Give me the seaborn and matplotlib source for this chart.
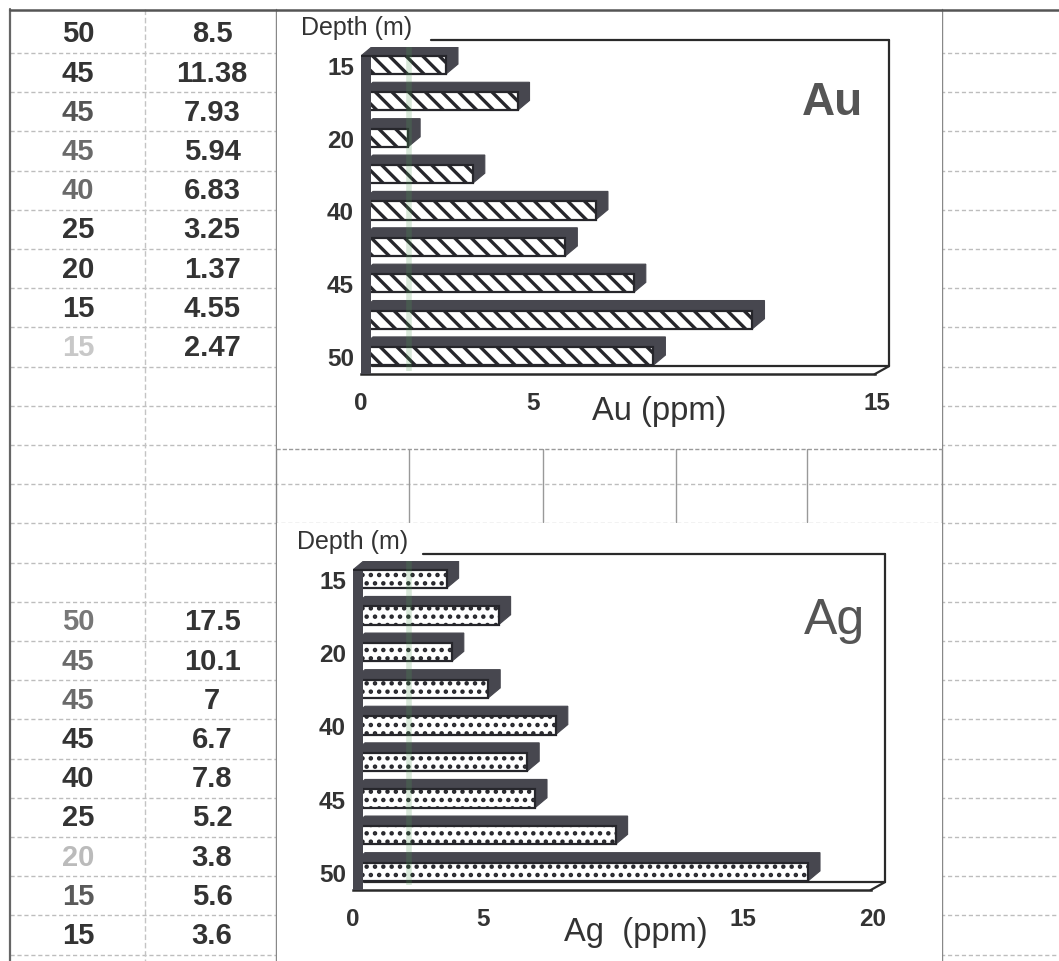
import matplotlib
matplotlib.use("Agg")
import matplotlib.pyplot as plt
import seaborn as sns
import pandas as pd
from matplotlib.patches import Polygon, Rectangle

# ---------------- data (table order, top to bottom) ----------------
au_depth = [50, 45, 45, 45, 40, 25, 20, 15, 15]
au_ppm = [8.5, 11.38, 7.93, 5.94, 6.83, 3.25, 1.37, 4.55, 2.47]
ag_depth = [50, 45, 45, 45, 40, 25, 20, 15, 15]
ag_ppm = [17.5, 10.1, 7, 6.7, 7.8, 5.2, 3.8, 5.6, 3.6]
au_xticks = [0, 5, 15]
ag_xticks = [0, 5, 15, 20]
au_xmax = 15
ag_xmax = 20

# ---------------- style ----------------
sns.set_style("white")
plt.rcParams["font.family"] = ["Liberation Sans", "DejaVu Sans"]

W, H = 1059, 962
fig = plt.figure(figsize=(W / 100, H / 100), dpi=100)
fig.patch.set_facecolor("white")

TXT = "#333333"
DARK = "#47474f"
GRID = "#bdbdbd"

# background "page" axes in pixel coordinates
bg = fig.add_axes([0, 0, 1, 1])
bg.set_xlim(0, W)
bg.set_ylim(H, 0)
bg.axis("off")

row0, rowstep = 54, 39.2
nrows = 24
for k in range(nrows):
    y = row0 + rowstep * k
    bg.plot([10, W], [y, y], color=GRID, lw=1.0, ls=(0, (3, 2)), zorder=1)
# verticals
bg.plot([10, 10], [10, H], color="#666666", lw=1.6, zorder=2)
bg.plot([145, 145], [10, H], color="#c4c4c4", lw=1.0, ls=(0, (4, 2)), zorder=2)
bg.plot([276, 276], [10, H], color="#888888", lw=1.0, zorder=2)
bg.plot([942, 942], [10, H], color="#888888", lw=1.0, zorder=2)
for gx in [409, 543, 676, 807]:
    bg.plot([gx, gx], [450, 523], color="#999999", lw=1.0, zorder=2)

# white chart panels
bg.add_patch(Rectangle((277, 13), 665, 437, facecolor="white", edgecolor="none", zorder=3))
bg.add_patch(Rectangle((277, 524), 665, H - 524, facecolor="white", edgecolor="none", zorder=3))
bg.plot([276, 942], [450, 450], color="#9a9a9a", lw=1.0, ls=(0, (3, 1.5)), zorder=4)
bg.plot([10, W], [11, 11], color="#555555", lw=1.8, zorder=5)

# table text
depth_colors_au = [TXT, TXT, "#555555", "#6a6a6a", "#6a6a6a", TXT, TXT, TXT, "#c8c8c8"]
depth_colors_ag = ["#777777", "#6a6a6a", "#6a6a6a", TXT, TXT, TXT, "#bbbbbb", "#5a5a5a", TXT]
TFS = 21
for i, (d, v) in enumerate(zip(au_depth, au_ppm)):
    y = row0 + rowstep * i - rowstep / 2
    bg.text(78, y, f"{d}", ha="center", va="center", fontsize=TFS, color=depth_colors_au[i],
            fontweight="bold", zorder=6)
    bg.text(212, y, f"{v:g}", ha="center", va="center", fontsize=TFS, color=TXT,
            fontweight="bold", zorder=6)
for j, (d, v) in enumerate(zip(ag_depth, ag_ppm)):
    y = row0 + rowstep * (15 + j) - rowstep / 2
    bg.text(78, y, f"{d}", ha="center", va="center", fontsize=TFS, color=depth_colors_ag[j],
            fontweight="bold", zorder=6)
    bg.text(212, y, f"{v:g}", ha="center", va="center", fontsize=TFS, color=TXT,
            fontweight="bold", zorder=6)


def chart(rect_px, depth, vals, xmax, xticks, hatch, hatch_lw, dx_px=12, dy_px=10):
    l, t, r, b = rect_px
    ax = fig.add_axes([l / W, 1 - b / H, (r - l) / W, (b - t) / H])
    ax.patch.set_alpha(0)
    depth_c = list(reversed(depth))
    vals_c = list(reversed(vals))
    df = pd.DataFrame({"row": list(range(len(vals_c))), "v": vals_c})
    plt.rcParams["hatch.linewidth"] = hatch_lw
    sns.barplot(data=df, x="v", y="row", orient="h", ax=ax, width=0.5,
                color="white", saturation=1, edgecolor="#26262b", linewidth=1.6,
                hatch=hatch, zorder=3, errorbar=None)
    ax.set_xlim(0, xmax)
    ax.set_ylim(len(vals_c) - 0.5, -0.5)
    bars = list(ax.patches)
    inv = ax.transData.inverted()
    p0 = ax.transData.transform((0, 0))
    dxd = inv.transform((p0[0] + dx_px, p0[1]))[0]
    dyd = inv.transform((p0[0], p0[1] + dy_px))[1]
    for p in bars:
        x0, w = p.get_x(), p.get_width()
        y0, h = p.get_y(), p.get_height()
        x1 = x0 + w
        ytop, ybot = y0, y0 + h
        poly = [(x0, ybot), (x0, ytop), (x0 + dxd, ytop + dyd), (x1 + dxd, ytop + dyd),
                (x1 + dxd, ybot + dyd), (x1, ybot)]
        ax.add_patch(Polygon(poly, closed=True, facecolor=DARK, edgecolor=DARK, lw=0.8, zorder=2))
    ax.axvspan(0, dxd * 0.85, ymin=0, ymax=0.97, color=DARK, zorder=4, lw=0)
    # frame (3-D back wall and floor)
    ox = dx_px / (r - l)
    oy = dy_px / (b - t)
    kw = dict(transform=ax.transAxes, clip_on=False, color="#2a2a2a", lw=1.6)
    ax.plot([0.135, 1 + ox], [1 + oy * 0.7, 1 + oy * 0.7], **kw)
    ax.plot([1 + ox, 1 + ox], [1 + oy * 0.7, oy * 0.8], **kw)
    ax.plot([ox * 0.9, 1 + ox], [oy * 0.8, oy * 0.8], **kw)
    ax.plot([1 - ox * 0.2, 1 + ox], [0, oy * 0.8], **kw)
    for s in ["top", "right", "left"]:
        ax.spines[s].set_visible(False)
    ax.spines["bottom"].set_color("#2a2a2a")
    ax.spines["bottom"].set_linewidth(1.8)
    ax.spines["bottom"].set_bounds(0, xmax * (1 - ox * 0.2))
    ax.set_xticks(xticks)
    ax.set_xticklabels([f"{v}" for v in xticks])
    yt = list(range(0, len(vals_c), 2))
    ax.set_yticks(yt)
    ax.set_yticklabels([f"{depth_c[i]}" for i in yt])
    ax.tick_params(axis="x", length=0, pad=12, labelsize=17.5, labelcolor=TXT)
    ax.tick_params(axis="y", length=0, pad=5, labelsize=17.5, labelcolor=TXT)
    for tl in ax.get_xticklabels() + ax.get_yticklabels():
        tl.set_fontweight("bold")
    ax.set_xlabel("")
    ax.set_ylabel("")
    return ax


ax_au = chart((361, 47.8, 877, 375.2), au_depth, au_ppm, au_xmax, au_xticks, "\\\\", 2.4)
ax_ag = chart((353, 561.7, 873, 891.1), ag_depth, ag_ppm, ag_xmax, ag_xticks, "..", 2.0)

# chart texts (page coordinates)
bg.text(357, 28, "Depth (m)", ha="center", va="center", fontsize=18, color=TXT, zorder=6)
bg.text(353, 542, "Depth (m)", ha="center", va="center", fontsize=18, color=TXT, zorder=6)
bg.text(659, 412, "Au (ppm)", ha="center", va="center", fontsize=23.5, color=TXT, zorder=6)
bg.text(636, 933, "Ag  (ppm)", ha="center", va="center", fontsize=23.5, color=TXT, zorder=6)
bg.text(832, 103, "Au", ha="center", va="center", fontsize=33, color="#555555",
        fontweight="bold", zorder=6)
bg.text(835, 621, "Ag", ha="center", va="center", fontsize=36, color="#555555", zorder=6)

# faint green scanner streak crossing both charts
ov = fig.add_axes([0, 0, 1, 1])
ov.set_xlim(0, W)
ov.set_ylim(H, 0)
ov.axis("off")
ov.patch.set_alpha(0)
ov.plot([409, 409], [48, 372], color="#4f9a55", lw=4, alpha=0.22, solid_capstyle="butt")
ov.plot([409, 409], [562, 886], color="#4f9a55", lw=4, alpha=0.22, solid_capstyle="butt")

fig.savefig("out.png", dpi=100)
